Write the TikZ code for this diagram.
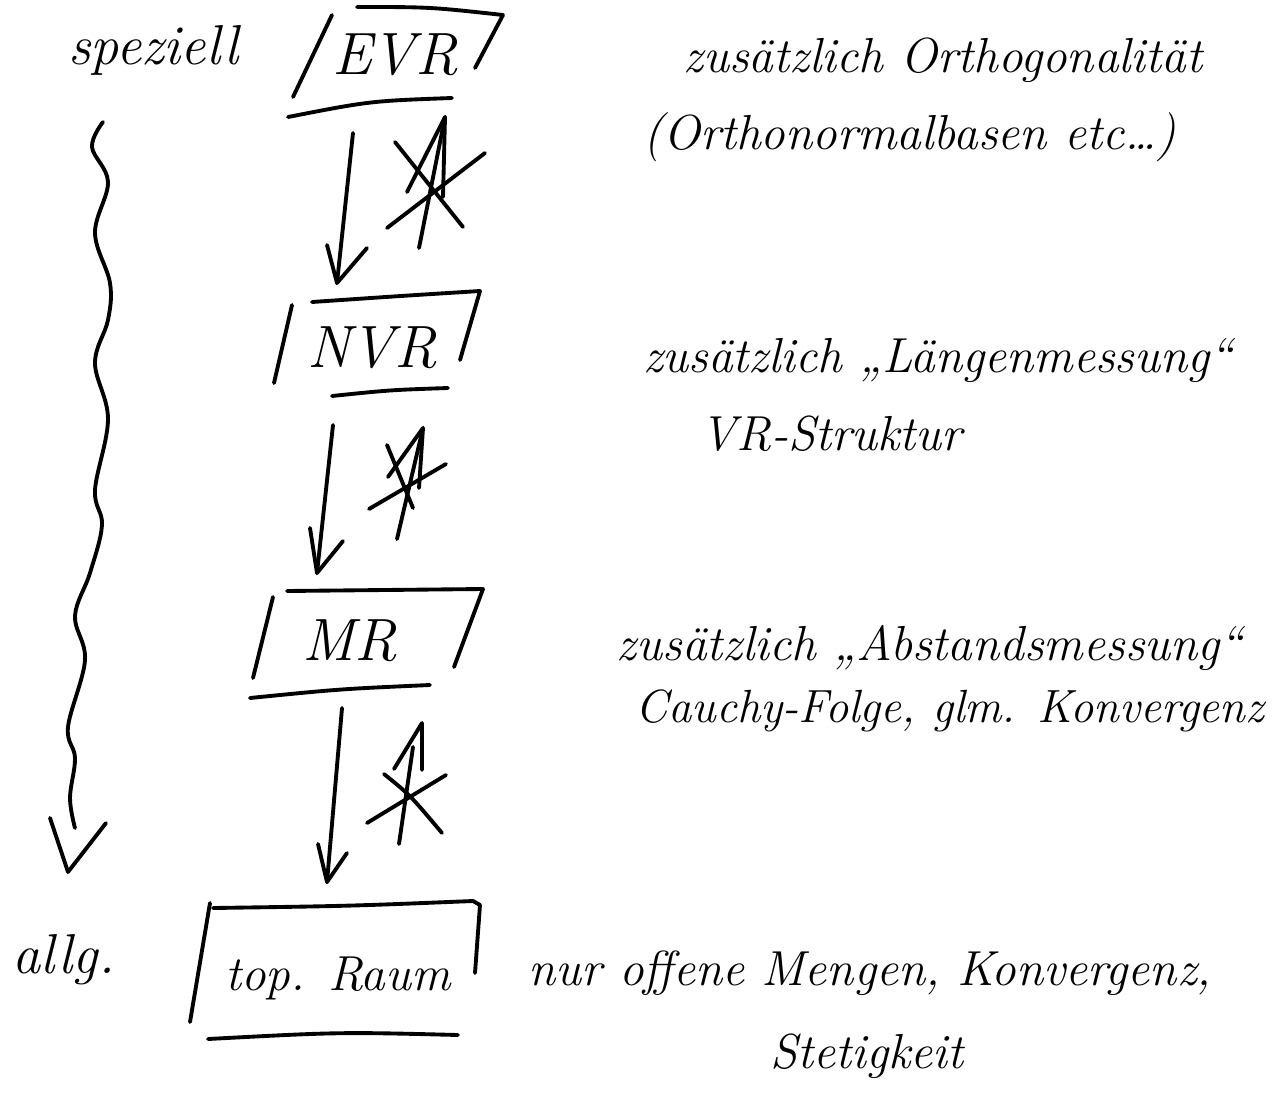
\documentclass[tikz,border=0pt]{standalone}
\usepackage{fontspec}
\usetikzlibrary{arrows.meta}
\begin{document}
\begin{tikzpicture}[x=0.02cm,y=-0.02cm,
  ink/.style={line width=2.2pt,line cap=round,line join=round},
  lbl/.style={font={\itshape\fontsize{34}{40}\selectfont},inner sep=0pt,anchor=base},
  side/.style={font={\itshape\fontsize{32}{38}\selectfont},inner sep=0pt,anchor=base west},
  note/.style={font={\itshape\fontsize{28}{34}\selectfont},inner sep=0pt,anchor=base},
  smallnote/.style={note,font={\itshape\fontsize{26.5}{32}\selectfont}}]
\useasboundingbox (0,0) rectangle (1284,1095);
\fill[white] (0,0) rectangle (1284,1095);

% side labels
\node[side] (spez) at (68,65) {speziell};
\node[side] (allg) at (12,973) {allg.};

% wavy arrow speziell -> allg.
\coordinate (ws) at (103,122);
\coordinate (wt) at (68,872);
\draw[ink] plot[smooth,tension=0.6] coordinates {(103,122) (92,147) (108,182) (95,233) (110,283) (108,320) (95,363) (108,419) (95,490) (102,525) (90,573) (75,616) (85,660) (68,727) (75,758) (70,798) (75,828)};
\draw[ink] (50,818) -- (wt) -- (106,823);

% box EVR
\node[lbl] (evr) at (395,75) {EVR};
\draw[ink] (332,15) -- (293,97);
\draw[ink] (357,7) .. controls (430,7) .. (503,15) -- (475,68);
\draw[ink] (288,117) .. controls (370,101) .. (452,98);

% box NVR
\node[lbl] (nvr) at (372,367) {NVR};
\draw[ink] (292,305) -- (274,383);
\draw[ink] (312,302) .. controls (400,296) .. (480,291) -- (460,360);
\draw[ink] (332,396) .. controls (390,390) .. (448,388);

% box MR
\node[lbl] (mr) at (350,660) {MR};
\draw[ink] (273,597) -- (253,678);
\draw[ink] (287,591) -- (483,589) -- (454,667);
\draw[ink] (250,698) .. controls (340,689) .. (430,685);

% box top. Raum
\node[lbl,font={\itshape\fontsize{28}{34}\selectfont}] (top) at (338,990) {top. Raum};
\draw[ink] (210,903) -- (190,1022);
\draw[ink] (213,908) .. controls (350,906) .. (473,901) -- (480,905) -- (475,973);
\draw[ink] (208,1039) .. controls (340,1032) .. (458,1035);

% downward arrows (implications)
\coordinate (d1s) at (353,133); \coordinate (d1e) at (337,283);
\draw[ink] (d1s) -- (d1e);
\draw[ink] (327,245) -- (d1e) -- (367,248);
\coordinate (d2s) at (333,425); \coordinate (d2e) at (317,573);
\draw[ink] (d2s) -- (d2e);
\draw[ink] (310,528) -- (d2e) -- (343,541);
\coordinate (d3s) at (342,708); \coordinate (d3e) at (327,882);
\draw[ink] (d3s) -- (d3e);
\draw[ink] (318,844) -- (d3e) -- (347,853);

% crossed-out upward arrows
\coordinate (u1s) at (419,248); \coordinate (u1e) at (445,117);
\draw[ink] (u1s) -- (u1e);
\draw[ink] (407,192) -- (u1e) -- (443,197);
\draw[ink] (395,142) -- (463,227);
\draw[ink] (387,228) -- (485,153);

\coordinate (u2s) at (397,539); \coordinate (u2e) at (423,428);
\draw[ink] (u2s) -- (u2e);
\draw[ink] (388,477) -- (u2e) -- (419,488);
\draw[ink] (387,445) -- (413,508);
\draw[ink] (369,509) -- (446,464);

\coordinate (u3s) at (399,844); \coordinate (u3e) at (422,723);
\draw[ink] (u3s) -- (413,747);
\draw[ink] (394,769) -- (u3e) -- (422,770);
\draw[ink] (384,774) .. controls (410,795) .. (442,833);
\draw[ink] (367,823) -- (446,775);

% notes
\node[note] (n1) at (943,72) {zusätzlich Orthogonalität};
\node[note] (n2) at (910,150) {(Orthonormalbasen etc\dots)};
\node[note] (n3) at (938,372) {zusätzlich „Längenmessung“};
\node[note] (n4) at (831,450) {VR-Struktur};
\node[note] (n5) at (930,660) {zusätzlich „Abstandsmessung“};
\node[smallnote] (n6) at (950,722) {Cauchy-Folge, glm. Konvergenz};
\node[note] (n7) at (870,985) {nur offene Mengen, Konvergenz,};
\node[note] (n8) at (867,1068) {Stetigkeit};
\end{tikzpicture}
\end{document}
